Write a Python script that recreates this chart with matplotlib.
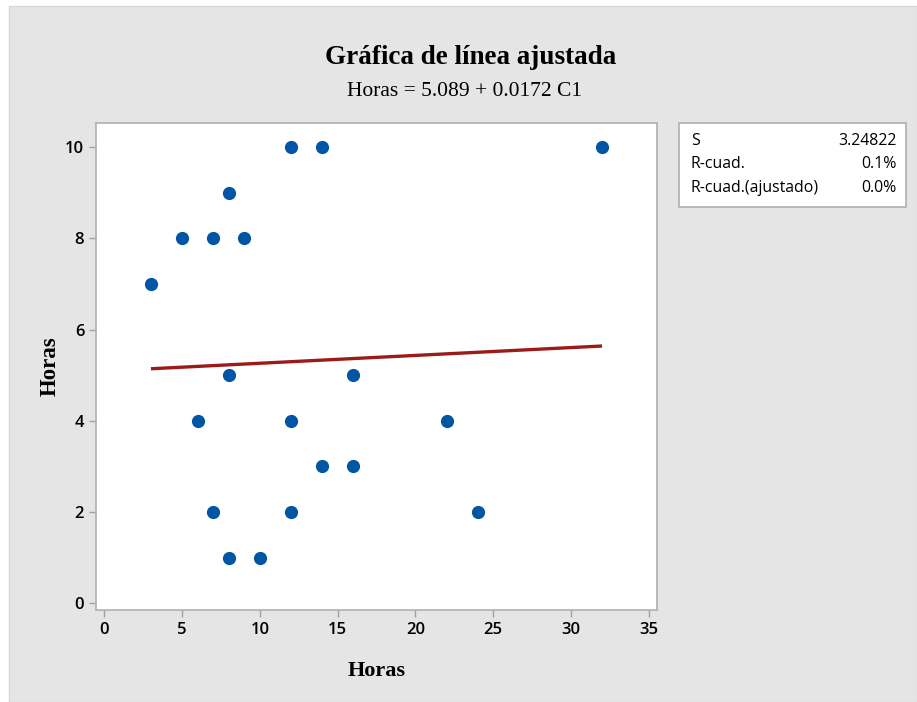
import matplotlib
matplotlib.use("Agg")
import matplotlib.pyplot as plt
from matplotlib.patches import Rectangle
import numpy as np

# Data
x_vals = [3, 5, 7, 9, 8, 12, 14, 32, 8, 6, 16, 12, 22, 14, 16, 7, 12, 24, 8, 10]
y_vals = [7, 8, 8, 8, 9, 10, 10, 10, 5, 4, 5, 4, 4, 3, 3, 2, 2, 2, 1, 1]
intercept = 5.089
slope = 0.0172
x_ticks = [0, 5, 10, 15, 20, 25, 30, 35]
y_ticks = [0, 2, 4, 6, 8, 10]
stat_names = ["S", "R-cuad.", "R-cuad.(ajustado)"]
stat_values = ["3.24822", "0.1%", "0.0%"]

W, H = 917, 702
fig = plt.figure(figsize=(W / 100, H / 100), dpi=100, facecolor="white")
fig.patches.append(Rectangle((9 / W, 0), 1 - 9 / W, 1 - 6 / H, transform=fig.transFigure,
                             facecolor="#e5e5e5", edgecolor="#d8d8d8", lw=1, zorder=-10))

ax = fig.add_axes([96 / W, 1 - 610 / H, (657 - 96) / W, (610 - 123) / H])
ax.set_zorder(1)
ax.set_facecolor("white")
ax.set_xlim(-0.53, 35.53)
ax.set_ylim(-0.15, 10.53)

xf = np.array([min(x_vals), max(x_vals)])
ax.plot(xf, intercept + slope * xf, color="#9b1b1b", lw=2.4, zorder=2, solid_capstyle="butt")
ax.plot(x_vals, y_vals, "o", color="#0055a5", markersize=9.5, markeredgewidth=0, zorder=3)

for s in ax.spines.values():
    s.set_color("#b0b0b0")
    s.set_linewidth(1.2)
ax.set_xticks(x_ticks)
ax.set_yticks(y_ticks)
ax.tick_params(axis="both", colors="#a0a0a0", length=5, width=1, labelcolor="black",
               labelsize=12)
for lab in ax.get_xticklabels() + ax.get_yticklabels():
    lab.set_family("Open Sans")
    lab.set_fontweight("semibold")

ax.set_xlabel("Horas", family="Liberation Serif", fontweight="bold", fontsize=16, labelpad=17)
ax.set_ylabel("Horas", family="Liberation Serif", fontweight="bold", fontsize=16.5, labelpad=3)

fig.text(471 / W, 1 - 58 / H, "Gráfica de línea ajustada", family="Liberation Serif",
         fontweight="bold", fontsize=19.5, ha="center", va="center")
fig.text(464 / W, 1 - 92 / H, "Horas = 5.089 + 0.0172 C1", family="Liberation Serif",
         fontsize=15.5, ha="center", va="center")

# Stats box
fig.patches.append(Rectangle((679 / W, 1 - 207 / H), (906 - 679) / W, (207 - 123) / H,
                             transform=fig.transFigure, facecolor="white",
                             edgecolor="#b0b0b0", lw=1.2, zorder=1))
for i, (n, v) in enumerate(zip(stat_names, stat_values)):
    yy = 1 - (141 + i * 23.5) / H
    fig.text(691 / W, yy, n, family="Open Sans", fontsize=11.4, ha="left", va="center", zorder=2)
    fig.text(897 / W, yy, v, family="Open Sans", fontsize=11.4, ha="right", va="center", zorder=2)

fig.savefig("out.png", dpi=100, facecolor=fig.get_facecolor())
